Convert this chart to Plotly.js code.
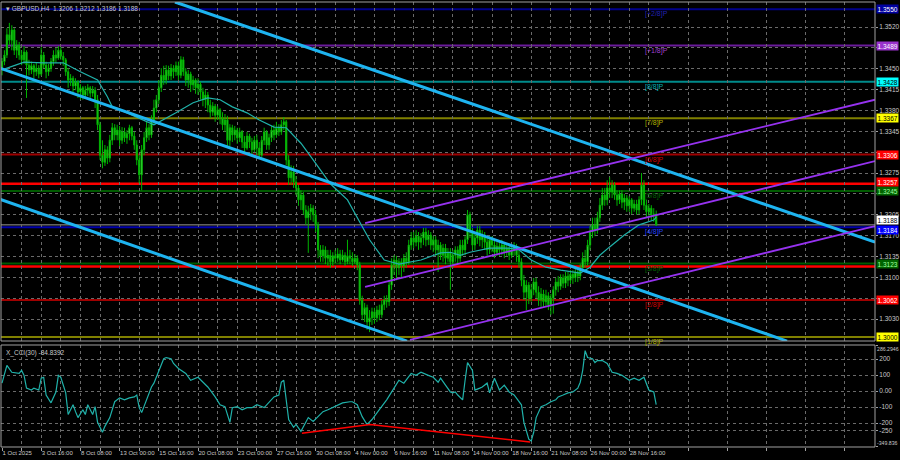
<!DOCTYPE html>
<html><head><meta charset="utf-8">
<script src="https://cdn.plot.ly/plotly-3.0.1.min.js"></script>
<style>html,body{margin:0;padding:0;background:#000;}#chart{width:900px;height:460px;}</style>
</head><body><div id="chart"></div>
<script>
// ---------- DATA (GBPUSD H4) ----------
const opens = [
1.3451,1.3462,1.3473,1.3507,1.3498,1.3515,1.3481,1.3490,1.3473,1.3465,
1.3478,1.3456,1.3448,1.3455,1.3445,1.3451,1.3441,1.3473,1.3456,1.3445,
1.3451,1.3462,1.3473,1.3468,1.3481,1.3471,1.3465,1.3445,1.3431,1.3434,
1.3421,1.3428,1.3411,1.3418,1.3406,1.3414,1.3418,1.3409,1.3414,1.3398,
1.3356,1.3305,1.3293,1.3314,1.3300,1.3330,1.3351,1.3339,1.3347,1.3330,
1.3344,1.3334,1.3341,1.3351,1.3337,1.3322,1.3297,1.3272,1.3314,1.3334,
1.3351,1.3339,1.3364,1.3384,1.3398,1.3418,1.3439,1.3431,1.3448,1.3438,
1.3451,1.3445,1.3455,1.3439,1.3465,1.3445,1.3431,1.3441,1.3423,1.3431,
1.3418,1.3424,1.3411,1.3398,1.3406,1.3389,1.3377,1.3387,1.3372,1.3381,
1.3367,1.3356,1.3364,1.3330,1.3351,1.3339,1.3347,1.3334,1.3344,1.3327,
1.3317,1.3337,1.3327,1.3314,1.3330,1.3317,1.3305,1.3330,1.3344,1.3322,
1.3334,1.3347,1.3339,1.3351,1.3344,1.3356,1.3361,1.3297,1.3267,1.3277,
1.3260,1.3250,1.3230,1.3238,1.3213,1.3200,1.3210,1.3216,1.3205,1.3188,
1.3146,1.3136,1.3146,1.3132,1.3137,1.3126,1.3136,1.3132,1.3139,1.3129,
1.3137,1.3126,1.3136,1.3132,1.3126,1.3132,1.3121,1.3062,1.3037,1.3049,
1.3025,1.3032,1.3042,1.3032,1.3045,1.3037,1.3054,1.3062,1.3059,1.3087,
1.3121,1.3129,1.3116,1.3126,1.3119,1.3132,1.3126,1.3154,1.3166,1.3159,
1.3169,1.3159,1.3166,1.3176,1.3163,1.3171,1.3154,1.3163,1.3146,1.3154,
1.3137,1.3149,1.3132,1.3142,1.3126,1.3137,1.3146,1.3132,1.3154,1.3146,
1.3163,1.3205,1.3176,1.3154,1.3166,1.3179,1.3163,1.3171,1.3159,1.3146,
1.3163,1.3154,1.3142,1.3152,1.3146,1.3154,1.3142,1.3149,1.3137,1.3146,
1.3152,1.3137,1.3126,1.3095,1.3075,1.3087,1.3065,1.3079,1.3092,1.3075,
1.3062,1.3072,1.3059,1.3069,1.3054,1.3065,1.3079,1.3092,1.3085,1.3099,
1.3090,1.3102,1.3095,1.3105,1.3099,1.3109,1.3102,1.3116,1.3132,1.3126,
1.3154,1.3176,1.3188,1.3179,1.3200,1.3221,1.3238,1.3230,1.3250,1.3243,
1.3255,1.3238,1.3230,1.3240,1.3226,1.3233,1.3220,1.3230,1.3216,1.3223,
1.3213,1.3230,1.3255,1.3221,1.3210,1.3216,1.3205,1.3206];
const highs = [
1.3468,1.3481,1.3518,1.3527,1.3523,1.3518,1.3498,1.3495,1.3481,1.3488,
1.3481,1.3465,1.3462,1.3458,1.3460,1.3456,1.3486,1.3478,1.3462,1.3458,
1.3468,1.3481,1.3485,1.3488,1.3486,1.3478,1.3468,1.3451,1.3441,1.3438,
1.3434,1.3431,1.3424,1.3421,1.3421,1.3424,1.3421,1.3421,1.3419,1.3406,
1.3361,1.3330,1.3322,1.3320,1.3339,1.3359,1.3357,1.3356,1.3354,1.3352,
1.3351,1.3347,1.3356,1.3354,1.3344,1.3330,1.3305,1.3322,1.3344,1.3361,
1.3357,1.3372,1.3398,1.3406,1.3431,1.3451,1.3455,1.3456,1.3455,1.3458,
1.3456,1.3462,1.3462,1.3471,1.3470,1.3451,1.3448,1.3445,1.3438,1.3434,
1.3434,1.3428,1.3418,1.3414,1.3411,1.3398,1.3394,1.3391,1.3387,1.3384,
1.3377,1.3374,1.3371,1.3357,1.3356,1.3354,1.3351,1.3351,1.3347,1.3337,
1.3344,1.3341,1.3334,1.3337,1.3339,1.3327,1.3337,1.3351,1.3347,1.3341,
1.3354,1.3356,1.3361,1.3357,1.3364,1.3369,1.3364,1.3305,1.3288,1.3287,
1.3270,1.3255,1.3246,1.3243,1.3221,1.3220,1.3223,1.3221,1.3213,1.3193,
1.3154,1.3154,1.3152,1.3146,1.3146,1.3142,1.3146,1.3149,1.3146,1.3146,
1.3142,1.3163,1.3146,1.3142,1.3139,1.3137,1.3126,1.3069,1.3057,1.3054,
1.3045,1.3049,1.3049,1.3052,1.3054,1.3062,1.3069,1.3070,1.3095,1.3132,
1.3137,1.3136,1.3132,1.3132,1.3139,1.3142,1.3163,1.3176,1.3176,1.3179,
1.3176,1.3174,1.3183,1.3183,1.3179,1.3176,1.3169,1.3169,1.3163,1.3159,
1.3156,1.3156,1.3149,1.3149,1.3146,1.3152,1.3152,1.3163,1.3163,1.3169,
1.3213,1.3210,1.3183,1.3176,1.3186,1.3186,1.3179,1.3176,1.3166,1.3169,
1.3169,1.3163,1.3159,1.3159,1.3163,1.3159,1.3156,1.3156,1.3152,1.3159,
1.3156,1.3146,1.3132,1.3104,1.3095,1.3092,1.3089,1.3099,1.3099,1.3085,
1.3082,1.3079,1.3079,1.3075,1.3072,1.3085,1.3099,1.3102,1.3105,1.3105,
1.3109,1.3109,1.3112,1.3112,1.3116,1.3116,1.3122,1.3142,1.3146,1.3163,
1.3186,1.3200,1.3200,1.3210,1.3233,1.3250,1.3250,1.3263,1.3268,1.3263,
1.3260,1.3246,1.3246,1.3246,1.3240,1.3238,1.3236,1.3233,1.3230,1.3230,
1.3236,1.3275,1.3263,1.3230,1.3223,1.3221,1.3216,1.3212];
const lows = [
1.3439,1.3456,1.3468,1.3490,1.3481,1.3473,1.3468,1.3465,1.3456,1.3458,
1.3401,1.3439,1.3441,1.3434,1.3438,1.3434,1.3438,1.3451,1.3434,1.3438,
1.3445,1.3455,1.3460,1.3465,1.3465,1.3455,1.3438,1.3418,1.3421,1.3411,
1.3414,1.3401,1.3398,1.3398,1.3401,1.3404,1.3401,1.3403,1.3384,1.3347,
1.3297,1.3283,1.3287,1.3290,1.3293,1.3322,1.3330,1.3330,1.3320,1.3324,
1.3327,1.3324,1.3330,1.3330,1.3314,1.3288,1.3258,1.3246,1.3305,1.3327,
1.3330,1.3334,1.3357,1.3377,1.3391,1.3411,1.3423,1.3424,1.3431,1.3431,
1.3434,1.3438,1.3431,1.3434,1.3438,1.3421,1.3418,1.3411,1.3414,1.3408,
1.3406,1.3398,1.3387,1.3384,1.3377,1.3367,1.3371,1.3361,1.3364,1.3357,
1.3347,1.3344,1.3317,1.3320,1.3327,1.3330,1.3324,1.3327,1.3317,1.3310,
1.3314,1.3317,1.3305,1.3310,1.3305,1.3300,1.3302,1.3322,1.3314,1.3314,
1.3327,1.3330,1.3334,1.3337,1.3339,1.3347,1.3288,1.3255,1.3255,1.3250,
1.3238,1.3220,1.3213,1.3205,1.3188,1.3141,1.3196,1.3193,1.3176,1.3132,
1.3126,1.3126,1.3122,1.3119,1.3116,1.3119,1.3124,1.3126,1.3122,1.3126,
1.3119,1.3122,1.3122,1.3119,1.3122,1.3112,1.3054,1.3028,1.3025,1.3012,
1.3008,1.3020,1.3022,1.3025,1.3028,1.3032,1.3045,1.3049,1.3052,1.3079,
1.3104,1.3095,1.3104,1.3099,1.3109,1.3116,1.3121,1.3146,1.3149,1.3152,
1.3146,1.3149,1.3154,1.3152,1.3154,1.3146,1.3142,1.3136,1.3109,1.3129,
1.3126,1.3122,1.3126,1.3079,1.3116,1.3126,1.3122,1.3126,1.3136,1.3137,
1.3156,1.3166,1.3146,1.3146,1.3156,1.3152,1.3149,1.3146,1.3136,1.3139,
1.3142,1.3132,1.3136,1.3136,1.3137,1.3132,1.3136,1.3129,1.3132,1.3136,
1.3126,1.3116,1.3085,1.3062,1.3045,1.3055,1.3059,1.3070,1.3065,1.3052,
1.3049,1.3049,1.3052,1.3045,1.3037,1.3039,1.3069,1.3075,1.3079,1.3082,
1.3082,1.3085,1.3089,1.3089,1.3092,1.3092,1.3095,1.3109,1.3116,1.3119,
1.3146,1.3166,1.3169,1.3173,1.3193,1.3213,1.3220,1.3221,1.3233,1.3233,
1.3230,1.3220,1.3223,1.3216,1.3213,1.3210,1.3210,1.3206,1.3210,1.3205,
1.3206,1.3221,1.3213,1.3200,1.3203,1.3196,1.3193,1.3186];
const closes = [
1.3462,1.3473,1.3507,1.3498,1.3515,1.3481,1.3490,1.3473,1.3465,1.3478,
1.3456,1.3448,1.3455,1.3445,1.3451,1.3441,1.3473,1.3456,1.3445,1.3451,
1.3462,1.3473,1.3468,1.3481,1.3471,1.3465,1.3445,1.3431,1.3434,1.3421,
1.3428,1.3411,1.3418,1.3406,1.3414,1.3418,1.3409,1.3414,1.3398,1.3356,
1.3305,1.3293,1.3314,1.3300,1.3330,1.3351,1.3339,1.3347,1.3330,1.3344,
1.3334,1.3341,1.3351,1.3337,1.3322,1.3297,1.3272,1.3314,1.3334,1.3351,
1.3339,1.3364,1.3384,1.3398,1.3418,1.3439,1.3431,1.3448,1.3438,1.3451,
1.3445,1.3455,1.3439,1.3465,1.3445,1.3431,1.3441,1.3423,1.3431,1.3418,
1.3424,1.3411,1.3398,1.3406,1.3389,1.3377,1.3387,1.3372,1.3381,1.3367,
1.3356,1.3364,1.3330,1.3351,1.3339,1.3347,1.3334,1.3344,1.3327,1.3317,
1.3337,1.3327,1.3314,1.3330,1.3317,1.3305,1.3330,1.3344,1.3322,1.3334,
1.3347,1.3339,1.3351,1.3344,1.3356,1.3361,1.3297,1.3267,1.3277,1.3260,
1.3250,1.3230,1.3238,1.3213,1.3200,1.3210,1.3216,1.3205,1.3188,1.3146,
1.3136,1.3146,1.3132,1.3137,1.3126,1.3136,1.3132,1.3139,1.3129,1.3137,
1.3126,1.3136,1.3132,1.3126,1.3132,1.3121,1.3062,1.3037,1.3049,1.3025,
1.3032,1.3042,1.3032,1.3045,1.3037,1.3054,1.3062,1.3059,1.3087,1.3121,
1.3129,1.3116,1.3126,1.3119,1.3132,1.3126,1.3154,1.3166,1.3159,1.3169,
1.3159,1.3166,1.3176,1.3163,1.3171,1.3154,1.3163,1.3146,1.3154,1.3137,
1.3149,1.3132,1.3142,1.3126,1.3137,1.3146,1.3132,1.3154,1.3146,1.3163,
1.3205,1.3176,1.3154,1.3166,1.3179,1.3163,1.3171,1.3159,1.3146,1.3163,
1.3154,1.3142,1.3152,1.3146,1.3154,1.3142,1.3149,1.3137,1.3146,1.3152,
1.3137,1.3126,1.3095,1.3075,1.3087,1.3065,1.3079,1.3092,1.3075,1.3062,
1.3072,1.3059,1.3069,1.3054,1.3065,1.3079,1.3092,1.3085,1.3099,1.3090,
1.3102,1.3095,1.3105,1.3099,1.3109,1.3102,1.3116,1.3132,1.3126,1.3154,
1.3176,1.3188,1.3179,1.3200,1.3221,1.3238,1.3230,1.3250,1.3243,1.3255,
1.3238,1.3230,1.3240,1.3226,1.3233,1.3220,1.3230,1.3216,1.3223,1.3213,
1.3230,1.3255,1.3221,1.3210,1.3216,1.3205,1.3206,1.3188];

// moving average (bar index, value)
const maIdx = [0,9,17,25,32,39,43,45,51,56,62,71,78,84,89,94,100,105,111,116,122,127,134,141,145,150,156,160,162,171,179,183,187,191,199,207,211,216,222,228,236,240,244,248,254,260,266,267];
const maVal = [1.3448,1.3461,1.3460,1.3460,1.3445,1.3431,1.3403,1.3386,1.3376,1.3367,1.3356,1.3376,1.3393,1.3401,1.3398,1.3386,1.3376,1.3364,1.3352,1.3351,1.3325,1.3297,1.3257,1.3230,1.3201,1.3163,1.3129,1.3124,1.3122,1.3129,1.3141,1.3142,1.3137,1.3142,1.3149,1.3149,1.3146,1.3129,1.3117,1.3112,1.3107,1.3117,1.3137,1.3151,1.3171,1.3188,1.3196,1.3201];

// CCI(30)
const cciIdx = [0,2,4,7,8,9,10,12,13,15,16,17,18,20,22,23,24,26,27,29,30,31,33,34,35,37,38,39,41,42,44,46,48,50,52,54,55,56,57,59,61,62,64,66,67,69,70,72,75,77,80,82,84,87,89,91,93,94,96,98,100,102,104,107,109,111,113,114,115,116,117,119,120,122,124,125,127,129,131,133,136,139,142,143,145,147,149,151,154,157,160,162,164,167,169,171,174,176,178,179,181,183,184,185,186,188,189,190,192,193,195,196,198,199,201,203,205,207,209,211,212,213,215,216,217,218,220,222,224,226,227,229,231,233,235,236,237,238,239,241,242,243,245,247,249,251,253,256,258,260,262,264,266,267];
const cciVal = [49,160,117,110,129,98,18,6,18,6,80,86,-25,-74,-6,98,86,-12,-147,-86,-129,-166,-117,-147,-86,-147,-98,-196,-258,-221,-166,-67,-43,-55,-43,-37,-25,-104,-135,-55,25,49,129,202,209,202,172,141,110,67,86,55,25,-37,-86,-98,-196,-104,-98,-117,-104,-104,-86,-104,-67,-37,-25,55,67,-67,-178,-227,-209,-252,-196,-166,-190,-160,-129,-117,-98,-74,-67,-67,-86,-160,-209,-178,-117,-55,18,67,49,110,98,117,98,86,55,80,37,-6,-12,-6,-25,-55,67,178,129,6,18,25,49,-12,80,6,37,-6,-25,-67,-86,-196,-301,-313,-258,-166,-98,-86,-67,-55,-37,-25,-12,-6,18,55,129,252,209,202,178,190,190,172,117,110,98,67,80,67,86,6,-6,-84.8392];

// CCI divergence line (bar index, value)
const divIdx = [122.4,150.2,215.5];
const divVal = [-264,-209,-319];

// Trend channels: endpoints (bar index, price)
const blueIdx = [[70.6,356.3],[-0.8,320.4],[-0.8,165.3]];
const bluePx  = [[1.3562,1.3159],[1.3451,1.2993],[1.3231,1.2993]];
const purpleIdx = [[148.2,356.3],[148.2,356.3],[166.5,356.3]];
const purplePx  = [[1.3191,1.3398],[1.3084,1.3295],[1.2995,1.3186]];

// Murrey math levels
const murreyLevels = [1.3550,1.3489,1.3428,1.3367,1.3306,1.3245,1.3184,1.3123,1.3062,1.3000];
const murreyNames = ['[+2/8]P','[+1/8]P','[8/8]P','[7/8]P','[6/8]P','[5/8]P','[4/8]P','[3/8]P','[2/8]P','[1/8]P'];
const srLevels = [1.3257,1.3118];

// axis ticks
const tickIdx = [0,16,32,48,64,80,96,112,128,144,160,176,192,208,224,240,256];
const tickLabels = ['1 Oct 2025','3 Oct 16:00','8 Oct 08:00','13 Oct 00:00','15 Oct 16:00','20 Oct 08:00','23 Oct 00:00','27 Oct 16:00','30 Oct 08:00','4 Nov 00:00','6 Nov 16:00','11 Nov 08:00','14 Nov 00:00','18 Nov 16:00','21 Nov 08:00','26 Nov 00:00','28 Nov 16:00'];
const priceTicks = [1.3520,1.3485,1.3450,1.3415,1.3380,1.3345,1.3310,1.3275,1.3240,1.3205,1.3170,1.3135,1.3100,1.3065,1.3030];
const priceTickLabels = ['1.3520','','1.3450','1.3415','1.3380','1.3345','','1.3275','','1.3205','1.3170','1.3135','1.3100','','1.3030']; // hidden ones sit under level boxes
const cciTicks = [286.2946,200,100,0,-100,-200,-250,-349.836];
const cciTickLabels = ['','200','100','0.00','-100','-200','-250',''];
const cciExtremes = [286.2946,-349.836];
const cciExtremeLabels = ['286.2946','-349.836'];

// ---------- STYLES ----------
const murreyLineColors = ['#00008b','#6a1b9a','#008b8b','#808000','#a00000','#005a00','#0000a8','#005a00','#a00000','#808000'];
const murreyBoxColors  = ['#0000a0','#9932cc','#00ffff','#ffff00','#ff0000','#006400','#0000ff','#006400','#ff0000','#ffff00'];
const murreyBoxText    = ['#ffffff','#ffffff','#000000','#000000','#ffffff','#a0ffa0','#ffffff','#a0ffa0','#ffffff','#000000'];
const murreyBoxShift   = [0,0,0,0,0,0,-3,0,0,0];
const murreyTextColors = ['#2020b0','#a040d0','#00b0b0','#b0b000','#d00000','#006400','#2040ff','#006400','#d00000','#b0b000'];
const FONT = 'Liberation Sans, Arial, sans-serif';
const GRID = '#6a6a6a';

const idx = closes.map((_, i) => i);
const n = closes.length;
const lastPrice = closes[n-1];

const traces = [];
traces.push({type:'candlestick', x: idx, open: opens, high: highs, low: lows, close: closes,
  xaxis:'x', yaxis:'y', whiskerwidth:0, hoverinfo:'none',
  increasing:{line:{color:'#00b400', width:1}, fillcolor:'#7cff7c'},
  decreasing:{line:{color:'#00b400', width:1}, fillcolor:'#2ed02e'}});
traces.push({type:'scatter', mode:'lines', x: maIdx, y: maVal, xaxis:'x', yaxis:'y',
  line:{color:'#20b2aa', width:1.2}, hoverinfo:'none'});
blueIdx.forEach((xs, k) => traces.push({type:'scatter', mode:'lines', x: xs, y: bluePx[k], xaxis:'x', yaxis:'y',
  line:{color:'#1eb4f0', width:3}, hoverinfo:'none'}));
purpleIdx.forEach((xs, k) => traces.push({type:'scatter', mode:'lines', x: xs, y: purplePx[k], xaxis:'x', yaxis:'y',
  line:{color:'#9632f0', width:1.8}, hoverinfo:'none'}));
traces.push({type:'scatter', mode:'lines', x: cciIdx, y: cciVal, xaxis:'x', yaxis:'y2',
  line:{color:'#20b2aa', width:1.2}, hoverinfo:'none'});
traces.push({type:'scatter', mode:'lines', x: divIdx, y: divVal, xaxis:'x', yaxis:'y2',
  line:{color:'#ff0000', width:1.5}, hoverinfo:'none'});

const shapes = [];
murreyLevels.forEach((lv, k) => shapes.push({type:'line', xref:'paper', x0:0, x1:1, yref:'y', y0:lv, y1:lv,
  line:{color:murreyLineColors[k], width:2}, layer:'below'}));
srLevels.forEach(lv => shapes.push({type:'line', xref:'paper', x0:0, x1:1, yref:'y', y0:lv, y1:lv,
  line:{color:'#ff0000', width:2.5}, layer:'below'}));
shapes.push({type:'line', xref:'paper', x0:0, x1:1, yref:'y', y0:lastPrice, y1:lastPrice,
  line:{color:'#9a9a9a', width:1}, layer:'below'});
shapes.push({type:'rect', xref:'paper', x0:0, x1:1, yref:'y domain', y0:0, y1:1, line:{color:'#a0a0a0', width:1}});
shapes.push({type:'rect', xref:'paper', x0:0, x1:1, yref:'y2 domain', y0:0, y1:1, line:{color:'#a0a0a0', width:1}});

const annotations = [];
murreyLevels.forEach((lv, k) => annotations.push({xref:'x', yref:'y', x:261.6, y:lv, yshift:-5,
  xanchor:'left', yanchor:'middle', text:murreyNames[k], showarrow:false,
  font:{family:FONT, size:7, color:murreyTextColors[k]}}));
function box(lv, bg, fc, ys) {
  annotations.push({xref:'paper', yref:'y', x:1, xshift:1, y:lv, yshift:ys || 0, xanchor:'left', yanchor:'middle',
    text:lv.toFixed(4), showarrow:false, bgcolor:bg, borderpad:0.5,
    font:{family:FONT, size:6.5, color:fc}});
}
box(lastPrice, '#ffffff', '#000000', 5);
murreyLevels.forEach((lv, k) => box(lv, murreyBoxColors[k], murreyBoxText[k], murreyBoxShift[k]));
box(srLevels[0], '#ff0000', '#ffffff', 2);
cciExtremes.forEach((v, k) => annotations.push({xref:'paper', yref:'y2', x:1, xshift:0, y:v, yshift: k === 0 ? -4 : 4,
  xanchor:'left', yanchor:'middle', text:cciExtremeLabels[k], showarrow:false,
  font:{family:FONT, size:5.2, color:'#c8c8c8'}}));
annotations.push({xref:'paper', yref:'paper', x:0.004, y:1, yshift:-1, xanchor:'left', yanchor:'top', showarrow:false,
  text:'▾ GBPUSD,H4  ' + [opens[n-1], highs[n-1], lows[n-1], closes[n-1]].map(v => v.toFixed(4)).join(' '),
  font:{family:FONT, size:6.5, color:'#c8c8c8'}});
annotations.push({xref:'paper', yref:'y2 domain', x:0.004, y:1, yshift:-2, xanchor:'left', yanchor:'top', showarrow:false,
  text:'X_CCI(30) ' + cciVal[cciVal.length-1].toFixed(4),
  font:{family:FONT, size:6.5, color:'#c8c8c8'}});

const axisFont = {family:FONT, size:6.5, color:'#c8c8c8'};
const layout = {
  width:900, height:460, paper_bgcolor:'#000', plot_bgcolor:'#000',
  margin:{l:1, r:25, t:2, b:13}, showlegend:false, font:axisFont,
  xaxis:{anchor:'y2', range:[-0.41, 356.3], tickmode:'array', tickvals:tickIdx, ticktext:tickLabels,
    ticklabelposition:'outside right', tickangle:0, ticks:'outside', ticklen:3, tickcolor:'#a0a0a0',
    tickfont:{family:FONT, size:6, color:'#c8c8c8'},
    showgrid:true, gridcolor:GRID, griddash:'3px,3px', gridwidth:1,
    minor:{tickmode:'linear', tick0:8, dtick:16, showgrid:true, gridcolor:GRID, griddash:'3px,3px', ticks:'outside', ticklen:3, tickcolor:'#a0a0a0'},
    zeroline:false, showline:false, rangeslider:{visible:false}, fixedrange:true},
  yaxis:{domain:[0.2382,1], range:[1.29931,1.35620], side:'right', tickmode:'array', tickvals:priceTicks,
    ticktext:priceTickLabels, ticks:'outside', ticklen:2, tickcolor:'#a0a0a0', tickfont:axisFont,
    showgrid:true, gridcolor:GRID, griddash:'3px,3px', zeroline:false, showline:false, fixedrange:true},
  yaxis2:{domain:[0,0.2292], range:[-350,287.5], side:'right', anchor:'x', tickmode:'array', tickvals:cciTicks,
    ticktext:cciTickLabels, ticks:'outside', ticklen:2, tickcolor:'#a0a0a0', tickfont:axisFont,
    showgrid:true, gridcolor:GRID, griddash:'3px,3px', zeroline:false, showline:false, fixedrange:true},
  shapes: shapes, annotations: annotations
};
Plotly.newPlot('chart', traces, layout, {staticPlot:true, displayModeBar:false});
</script>
</body></html>
